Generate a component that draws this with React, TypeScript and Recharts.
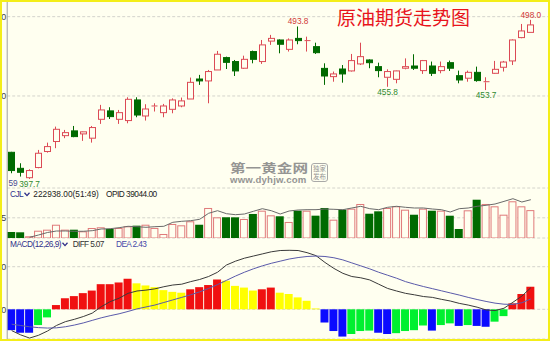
import React from "react";
import { ComposedChart, Bar, Line, XAxis, YAxis, CartesianGrid, Cell, ReferenceDot } from "recharts";

// daily candles
const opens = [414.5, 404.4, 398.5, 404.9, 415.0, 421.3, 425.0, 428.0, 426.1, 423.4, 435.3, 440.6, 435.3, 434.5, 447.5, 437.4, 443.3, 439.5, 441.6, 443.7, 448.1, 460.7, 459.5, 466.4, 474.2, 471.7, 467.5, 478.0, 471.7, 484.6, 485.3, 479.4, 486.3, 484.6, 481.1, 467.4, 462.2, 467.0, 465.8, 470.2, 472.7, 468.5, 461.8, 460.5, 467.5, 468.9, 466.0, 468.9, 466.0, 471.0, 462.8, 461.2, 464.9, 458.6, 464.3, 468.1, 472.1, 486.8, 490.1];
const highs = [414.8, 407.6, 403.8, 416.0, 420.6, 430.7, 428.6, 431.1, 427.6, 431.1, 444.4, 442.9, 441.2, 449.2, 449.2, 444.8, 445.4, 445.0, 448.5, 449.0, 461.6, 463.3, 466.4, 478.4, 474.8, 472.7, 475.4, 478.6, 485.3, 488.5, 485.7, 486.3, 493.8, 487.4, 483.6, 470.6, 465.4, 469.5, 476.5, 483.6, 473.1, 471.0, 466.8, 466.0, 473.7, 476.3, 472.7, 471.7, 471.7, 472.3, 466.0, 466.0, 468.5, 461.8, 472.1, 472.1, 485.7, 495.4, 498.0];
const lows = [401.3, 399.2, 397.7, 404.4, 414.3, 417.1, 423.4, 424.0, 421.7, 420.6, 432.4, 435.5, 432.4, 432.8, 436.6, 434.5, 440.2, 436.6, 439.1, 442.9, 448.1, 457.0, 445.4, 466.4, 467.0, 462.6, 467.0, 470.6, 470.2, 482.2, 476.9, 478.0, 482.6, 478.0, 476.5, 457.0, 459.0, 458.4, 465.4, 469.5, 467.5, 461.8, 455.8, 458.0, 466.8, 466.4, 463.9, 462.6, 464.3, 465.8, 458.0, 459.0, 459.0, 453.7, 463.9, 465.4, 469.5, 486.4, 490.1];
const closes = [403.0, 401.9, 403.0, 413.9, 418.1, 429.0, 426.9, 424.4, 427.4, 430.1, 441.2, 437.0, 439.5, 447.9, 438.0, 441.8, 443.7, 443.7, 447.5, 446.9, 458.6, 459.5, 465.4, 476.3, 471.2, 465.8, 473.1, 473.1, 482.2, 486.3, 482.6, 485.3, 484.9, 484.9, 477.3, 462.6, 463.9, 463.9, 472.3, 474.8, 471.0, 466.0, 465.4, 465.8, 468.5, 467.5, 472.3, 464.3, 468.5, 467.5, 460.1, 464.9, 459.7, 459.0, 466.8, 471.4, 485.3, 491.0, 494.8];

// CJL volume and its average line
const volumes = [48100, 45600, 13800, 58300, 66500, 106200, 66800, 66400, 53500, 80100, 85700, 72300, 80200, 93500, 98600, 106300, 80400, 32100, 112200, 101500, 133700, 106100, 240200, 165400, 165800, 165300, 152100, 192300, 218600, 181500, 173800, 128200, 218500, 218300, 178600, 240100, 146500, 226300, 234600, 272100, 194300, 213500, 240300, 253700, 226500, 186200, 234500, 218200, 218600, 178300, 72100, 221500, 306300, 272200, 253400, 186500, 293700, 253500, 222938];
const volumeMA = [null, null, 5600, 24000, 44000, 56000, 56200, 53600, 53800, 58400, 72000, 74400, 82400, 93600, 90400, 85600, 90400, 93600, 125600, 133600, 138400, 149600, 197600, 218400, 194400, 186400, 192000, 213600, 234400, 218400, 192000, 216000, 224000, 226400, 226600, 232000, 229600, 226400, 240000, 253600, 234400, 226400, 245600, 253600, 245600, 240000, 240200, 232000, 226400, 208000, 234400, 240000, 253600, 261600, 272000, 292800, 314400, 288000, 306400];
const volumeTicks = [161565];

// MACD(12,26,9)
const macdHist = [-4.9, -5.5, -5.5, -3.7, -1.9, 1.0, 2.6, 3.1, 3.8, 4.4, 5.9, 5.9, 6.3, 7.2, 6.1, 5.6, 5.2, 4.5, 4.1, 3.9, 4.7, 5.2, 5.7, 7.0, 6.7, 5.5, 5.1, 4.4, 4.7, 5.1, 3.9, 3.6, 2.8, 2.0, 0.2, -3.1, -5.1, -6.4, -5.8, -5.1, -5.0, -5.5, -5.8, -5.6, -5.1, -4.9, -3.8, -5.0, -3.7, -3.3, -3.9, -3.7, -3.9, -4.1, -2.9, -1.6, 1.4, 3.6, 5.3];
const diffLine = [-5.0, -6.0, -6.75, -6.1, -5.1, -3.8, -2.9, -2.35, -1.7, -0.9, 0.6, 1.8, 2.6, 3.75, 4.3, 4.5, 4.8, 5.3, 5.7, 5.9, 6.5, 7.0, 7.7, 8.7, 10.4, 11.3, 12.0, 12.5, 13.0, 13.5, 13.8, 13.85, 13.8, 13.3, 12.6, 11.0, 9.6, 8.45, 7.7, 7.4, 6.9, 5.9, 4.9, 4.3, 3.75, 3.4, 3.0, 2.8, 2.35, 1.95, 1.4, 1.0, 0.5, -0.15, -0.3, 0.25, 1.65, 3.1, 5.07];
const deaLine = [-3.5, -3.8, -4.1, -4.3, -4.4, -4.35, -4.1, -3.7, -3.2, -2.6, -2.0, -1.5, -1.05, -0.5, 0.1, 0.55, 1.0, 1.6, 2.2, 2.8, 3.4, 4.1, 4.9, 5.8, 6.8, 7.8, 8.7, 9.5, 10.2, 10.8, 11.3, 11.8, 12.15, 12.4, 12.5, 12.4, 12.1, 11.6, 10.9, 10.2, 9.5, 8.7, 8.0, 7.3, 6.5, 5.9, 5.35, 4.85, 4.35, 3.85, 3.35, 2.8, 2.3, 1.85, 1.45, 1.2, 1.15, 1.55, 2.43];

const priceTicks = [450, 500];
const macdTicks = [0, 10];
const highMarks = [32, 58];
const lowMarks = [2, 42, 53];

const BG = "#fffff0";
const UP = "#dc4a55";
const DOWN = "#006a00";
const VOL_UP = "#e07a7a";
const GRID = "#d4d4cc";
const AXIS = "#a0a0a0";
const NAVY = "#30308a";
const FONT = "'Liberation Sans', Arial, sans-serif";

const rows = opens.map((o, i) => ({
  i,
  o,
  h: highs[i],
  l: lows[i],
  c: closes[i],
  hl: [lows[i], highs[i]],
  vol: volumes[i],
  ma: volumeMA[i],
  hist: macdHist[i],
  diff: diffLine[i],
  dea: deaLine[i],
}));

function histColor(i: number) {
  const v = macdHist[i];
  const prev = i > 0 ? macdHist[i - 1] : v;
  if (v >= 0) return v >= prev ? "#f01010" : "#ffff00";
  return v <= prev ? "#0a0aff" : "#00f030";
}

function Candle(props: any) {
  const { x, y, width, height, payload } = props;
  const { o, h, l, c } = payload;
  const k = h > l ? height / (h - l) : 0;
  const py = (v: number) => y + (h - v) * k;
  const cx = Math.round(x + width / 2) - 0.5;
  const up = c >= o;
  const color = up ? UP : DOWN;
  const top = py(Math.max(o, c));
  const bot = py(Math.min(o, c));
  const left = Math.round(x) + 0.5;
  const w = Math.round(width) - 1;
  return (
    <g>
      <line x1={cx} x2={cx} y1={y} y2={top} stroke={color} />
      <line x1={cx} x2={cx} y1={bot} y2={y + height} stroke={color} />
      {bot - top < 1.5 ? (
        <line x1={left} x2={left + w} y1={top} y2={top} stroke={color} />
      ) : (
        <rect x={left} y={top} width={w} height={bot - top} fill={up ? BG : color} stroke={color} />
      )}
    </g>
  );
}

function VolBar(props: any) {
  const { x, y, width, height, payload } = props;
  if (payload.c >= payload.o) {
    return <rect x={x + 0.5} y={y + 0.5} width={width - 1} height={Math.max(height - 0.5, 0)} fill={BG} stroke={VOL_UP} />;
  }
  return <rect x={x} y={y} width={width} height={height} fill={DOWN} />;
}

const tickStyle = { fontSize: 9, fill: "#444", fontFamily: FONT };
const xPad = { left: 0, right: 12.7 };

function Chevron() {
  return (
    <svg width="6" height="5" style={{ display: "inline-block", verticalAlign: "middle", marginLeft: 1 }}>
      <polyline points="0.5,0.8 3,3.6 5.5,0.8" fill="none" stroke={NAVY} strokeWidth={1.3} />
    </svg>
  );
}

const txt = (left: number, top: number, color: string, spacing = 0): React.CSSProperties => ({
  position: "absolute",
  left,
  top,
  color,
  fontSize: 8.3,
  lineHeight: "10.3px",
  letterSpacing: spacing,
  whiteSpace: "nowrap",
  fontFamily: FONT,
});

export default function App() {
  return (
    <div style={{ position: "fixed", left: 0, top: 0, width: 550, height: 341, background: BG, overflow: "hidden", fontFamily: FONT }}>
      <div style={{ position: "absolute", left: 0, top: 0 }}>
        <ComposedChart width={550} height={188} data={rows} margin={{ top: 0, right: 2, bottom: 0, left: 0 }}>
          <CartesianGrid vertical={false} stroke={GRID} strokeDasharray="3 2" />
          <XAxis dataKey="i" height={0} tick={false} tickLine={false} axisLine={{ stroke: AXIS }} padding={xPad} />
          <YAxis width={7.2} domain={[392, 510.5]} ticks={priceTicks} allowDataOverflow tickLine={false} tickSize={0} tickMargin={1} tick={tickStyle} axisLine={{ stroke: AXIS }} tickFormatter={(v: number) => v.toFixed(1)} />
          <Bar dataKey="hl" barSize={7} shape={(p: any) => <Candle {...p} />} isAnimationActive={false} />
          {highMarks.map((i) => (
            <ReferenceDot key={`h${i}`} x={i} y={highs[i]} r={0} fill="none" stroke="none" label={{ value: highs[i].toFixed(1), position: "top", offset: 2, fill: "#d03838", fontSize: 8.3, fontFamily: FONT }} />
          ))}
          {lowMarks.map((i) => (
            <ReferenceDot key={`l${i}`} x={i} y={lows[i]} r={0} fill="none" stroke="none" label={{ value: lows[i].toFixed(1), position: "bottom", offset: 2, fill: "#2f8a2f", fontSize: 8.3, fontFamily: FONT }} />
          ))}
        </ComposedChart>
      </div>

      <div style={{ position: "absolute", left: 0, top: 188 }}>
        <ComposedChart width={550} height={50} data={rows} margin={{ top: 0, right: 2, bottom: 0, left: 0 }}>
          <CartesianGrid vertical={false} stroke={GRID} strokeDasharray="3 2" />
          <XAxis dataKey="i" height={0} tick={false} tickLine={false} axisLine={{ stroke: AXIS }} padding={xPad} />
          <YAxis width={7.2} domain={[0, 400000]} ticks={volumeTicks} allowDataOverflow tickLine={false} tickSize={0} tickMargin={1} tick={tickStyle} axisLine={{ stroke: AXIS }} />
          <Bar dataKey="vol" barSize={8} shape={(p: any) => <VolBar {...p} />} isAnimationActive={false} />
          <Line dataKey="ma" type="linear" stroke="#6a6a6a" strokeWidth={1} dot={false} isAnimationActive={false} />
        </ComposedChart>
      </div>

      <div style={{ position: "absolute", left: 0, top: 238 }}>
        <ComposedChart width={550} height={101} data={rows} margin={{ top: 0, right: 2, bottom: 0, left: 0 }}>
          <CartesianGrid vertical={false} stroke={GRID} strokeDasharray="3 2" />
          <XAxis dataKey="i" height={0} tick={false} tickLine={false} axisLine={false} padding={xPad} />
          <YAxis width={7.2} domain={[-6.97, 16.74]} ticks={macdTicks} allowDataOverflow tickLine={false} tickSize={0} tickMargin={1} tick={tickStyle} axisLine={{ stroke: AXIS }} tickFormatter={(v: number) => v.toFixed(1)} />
          <Bar dataKey="hist" barSize={8} isAnimationActive={false}>
            {rows.map((r) => (
              <Cell key={r.i} fill={histColor(r.i)} />
            ))}
          </Bar>
          <Line dataKey="diff" type="linear" stroke="#3a3a3a" strokeWidth={1} dot={false} isAnimationActive={false} />
          <Line dataKey="dea" type="linear" stroke="#5a5aaa" strokeWidth={1} dot={false} isAnimationActive={false} />
        </ComposedChart>
      </div>

      {/* title */}
      <div style={{ position: "absolute", left: 337, top: 6, color: "#e8141c", fontSize: 19, lineHeight: "22px", fontFamily: "'Noto Sans CJK SC', sans-serif", whiteSpace: "nowrap" }}>
        原油期货走势图
      </div>

      {/* low-left marker */}
      <div style={txt(8.5, 178, "#4a4a90")}>59</div>

      {/* panel headers */}
      <div style={txt(10, 188.5, NAVY, -0.6)}>
        CJL<Chevron />
      </div>
      <div style={txt(33.3, 188.5, "#222")}>222938.00(51:49)</div>
      <div style={txt(106, 188.5, "#222", -0.5)}>OPID 39044.00</div>

      <div style={txt(10, 238.5, NAVY, -0.5)}>
        MACD(12,26,9)<Chevron />
      </div>
      <div style={txt(72.7, 238.5, "#333", -0.65)}>DIFF 5.07</div>
      <div style={txt(116, 238.5, "#4848a8", -0.6)}>DEA 2.43</div>

      {/* watermark */}
      <div style={{ position: "absolute", left: 230, top: 160, color: "#8a8a8a", opacity: 0.9, whiteSpace: "nowrap" }}>
        <div style={{ fontSize: 12, lineHeight: "15px", fontWeight: 700, fontFamily: "'Noto Sans CJK SC', sans-serif", transform: "scale(1.3, 1)", transformOrigin: "left top" }}>第一黄金网</div>
        <div style={{ fontSize: 9.6, lineHeight: "9px", fontWeight: 700, fontFamily: FONT, letterSpacing: 0.2 }}>www.dyhjw.com</div>
      </div>
      <div style={{ position: "absolute", left: 311, top: 163, width: 15, height: 17, border: "1px solid #a0a0a0", borderRadius: 3, color: "#8a8a8a", fontSize: 6.5, lineHeight: "8px", textAlign: "center", fontFamily: "'Noto Sans CJK SC', sans-serif", opacity: 0.9 }}>
        独家
        <br />
        发布
      </div>

      <div style={{ position: "absolute", left: 0, top: 0, width: 550, height: 341, boxSizing: "border-box", border: "2px solid #f4ee18", pointerEvents: "none" }} />
    </div>
  );
}
